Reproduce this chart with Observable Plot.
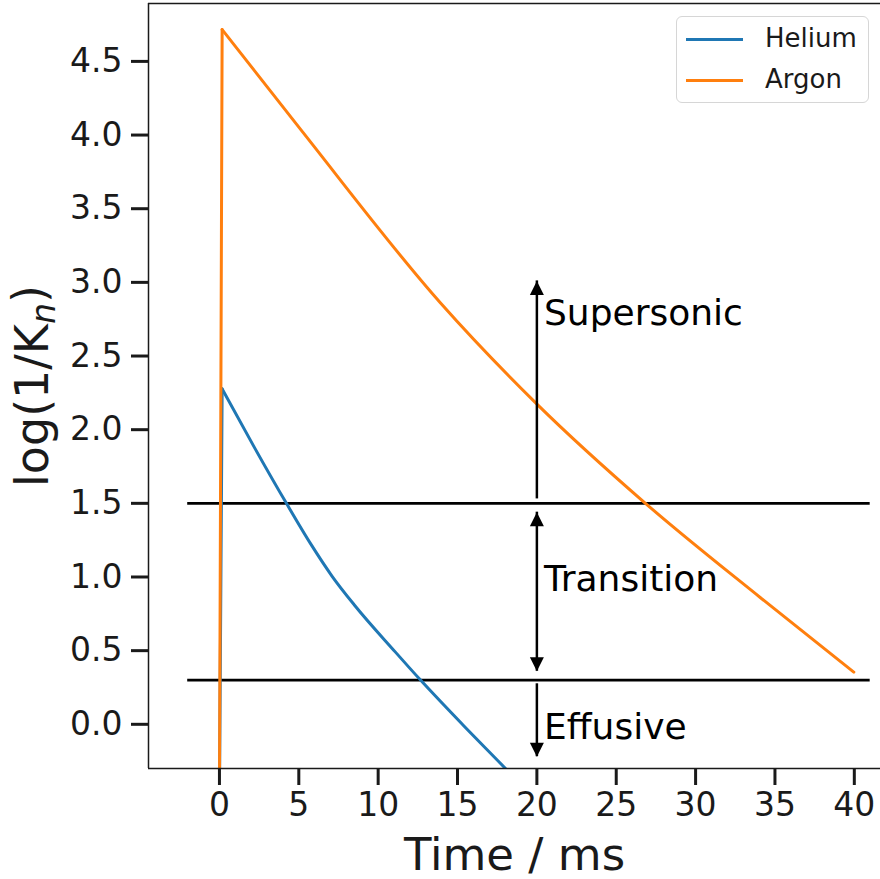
<!DOCTYPE html>
<html>
<head>
<meta charset="utf-8">
<script src="https://cdn.jsdelivr.net/npm/d3@7"></script>
<script src="https://cdn.jsdelivr.net/npm/@observablehq/plot@0.6"></script>
<style>
  html, body { margin: 0; padding: 0; background: #fff; }
  #wrap { position: relative; width: 880px; height: 879px; font-family: "DejaVu Sans", sans-serif; }
  .legend { position: absolute; left: 676px; top: 16px; width: 193px; height: 87px;
            border: 1.5px solid #d6d6d6; border-radius: 6px; background: rgba(255,255,255,0.85); box-sizing: border-box; }
  .legend .sw { position: absolute; left: 9px; width: 57px; height: 3px; }
  .legend .lb { position: absolute; left: 88px; font-size: 26px; line-height: 26px; color: #1a1a1a; }
</style>
</head>
<body>
<div id="wrap"></div>
<script>
// ---- data ----
const seriesNames = ["Helium", "Argon"];
const seriesColors = ["#1f77b4", "#ff7f0e"];

const heliumTime = [0, 0.17, 2.2, 4.22, 5.73, 7.1, 8.5, 11.09, 12.67, 15.39, 18.02, 19.0];
const heliumValue = [-0.5, 2.277, 1.88, 1.50, 1.228, 1.005, 0.81, 0.49, 0.30, -0.01, -0.30, -0.41];

const argonTime = [0, 0.17, 5.10, 13.93, 20.02, 26.84, 34.09, 39.97];
const argonValue = [-0.5, 4.716, 4.04, 2.86, 2.172, 1.50, 0.859, 0.354];

const xTicks = [0, 5, 10, 15, 20, 25, 30, 35, 40];
const yTicks = [0, 0.5, 1.0, 1.5, 2.0, 2.5, 3.0, 3.5, 4.0, 4.5];
const xDomain = [-4.47, 41.65];
const yDomain = [-0.30, 4.893];

const boundaryY = [1.5, 0.3];
const boundaryX = [-2, 41];

const arrowX = 20;
const arrowFrom = [1.53, 1.44, 0.275];
const arrowTo = [3.01, 0.36, -0.22];
const headUpY = [3.01, 1.44];
const headDownY = [0.36, -0.22];

const regionLabels = ["Supersonic", "Transition", "Effusive"];
const regionLabelY = [2.79, 0.98, -0.02];
const regionLabelX = 20.45;

const xLabel = "Time / ms";
const yLabel = "log(1/Kn)";

// ---- build ----
const heliumData = heliumTime.map((t, i) => ({t, v: heliumValue[i]}));
const argonData = argonTime.map((t, i) => ({t, v: argonValue[i]}));
const arrows = arrowFrom.map((f, i) => ({y1: f, y2: arrowTo[i]}));
const labelsData = regionLabels.map((s, i) => ({s, y: regionLabelY[i]}));

const upTri = { draw(ctx, size) { const r = Math.sqrt(size / Math.PI); ctx.moveTo(0, 0); ctx.lineTo(r, 2 * r); ctx.lineTo(-r, 2 * r); ctx.closePath(); } };
const downTri = { draw(ctx, size) { const r = Math.sqrt(size / Math.PI); ctx.moveTo(0, 0); ctx.lineTo(r, -2 * r); ctx.lineTo(-r, -2 * r); ctx.closePath(); } };

const ink = "#1a1a1a";

function seriesMarks(data, color) {
  return [
    Plot.line(data.slice(0, 2), { x: "t", y: "v", stroke: color, strokeWidth: 3, clip: true }),
    Plot.line(data.slice(1), { x: "t", y: "v", stroke: color, strokeWidth: 3, curve: "monotone-x", clip: true })
  ];
}

const chart = Plot.plot({
  width: 880,
  height: 879,
  marginTop: 3,
  marginBottom: 111,
  marginLeft: 148,
  marginRight: 0,
  style: { fontFamily: "DejaVu Sans", fontSize: "33px", color: ink, background: "white" },
  x: { domain: xDomain },
  y: { domain: yDomain },
  marks: [
    Plot.ruleY(boundaryY, { y: d => d, x1: boundaryX[0], x2: boundaryX[1], stroke: "black", strokeWidth: 2.8 }),
    ...seriesMarks(heliumData, seriesColors[0]),
    ...seriesMarks(argonData, seriesColors[1]),
    Plot.ruleX(arrows, { x: arrowX, y1: "y1", y2: "y2", stroke: "black", strokeWidth: 2.5 }),
    Plot.dot(headUpY, { x: arrowX, y: d => d, symbol: upTri, r: 7, fill: "black", stroke: "none" }),
    Plot.dot(headDownY, { x: arrowX, y: d => d, symbol: downTri, r: 7, fill: "black", stroke: "none" }),
    Plot.text(labelsData, { x: regionLabelX, y: "y", text: "s", textAnchor: "start", lineAnchor: "middle", fontSize: 36, fill: "black" }),
    Plot.ruleX([xDomain[0]], { stroke: ink, strokeWidth: 1.5 }),
    Plot.ruleY([yDomain[0], yDomain[1]], { stroke: ink, strokeWidth: 1.5 }),
    Plot.axisX({ ticks: xTicks, tickSize: 17, tickPadding: 7, strokeWidth: 3, stroke: ink, fill: ink, label: null }),
    Plot.axisY({ ticks: yTicks, tickSize: 17, tickPadding: 9, strokeWidth: 3, stroke: ink, fill: ink, tickFormat: d3.format(".1f"), label: null }),
    Plot.text([xLabel], { text: d => d, frameAnchor: "bottom", dy: 101, lineAnchor: "bottom", fontSize: 45, fill: ink }),
    Plot.text([yLabel], { text: d => d, frameAnchor: "left", rotate: -90, dx: -101, textAnchor: "middle", lineAnchor: "bottom", fontSize: 46, fill: ink })
  ]
});

// subscript italic n in the y label
chart.querySelectorAll("text").forEach(t => {
  if (t.textContent === yLabel) {
    t.innerHTML = 'log(1/K<tspan dy="0.22em" font-size="0.72em" font-style="italic">n</tspan><tspan dy="-0.22em">)</tspan>';
  }
});

const wrap = document.getElementById("wrap");
wrap.appendChild(chart);

// legend
const legend = document.createElement("div");
legend.className = "legend";
const rowsY = [22, 63];
seriesNames.forEach((name, i) => {
  const sw = document.createElement("div");
  sw.className = "sw";
  sw.style.top = (rowsY[i] - 1.5) + "px";
  sw.style.background = seriesColors[i];
  const lb = document.createElement("div");
  lb.className = "lb";
  lb.style.top = (rowsY[i] - 14) + "px";
  lb.textContent = name;
  legend.appendChild(sw);
  legend.appendChild(lb);
});
wrap.appendChild(legend);
</script>
</body>
</html>
